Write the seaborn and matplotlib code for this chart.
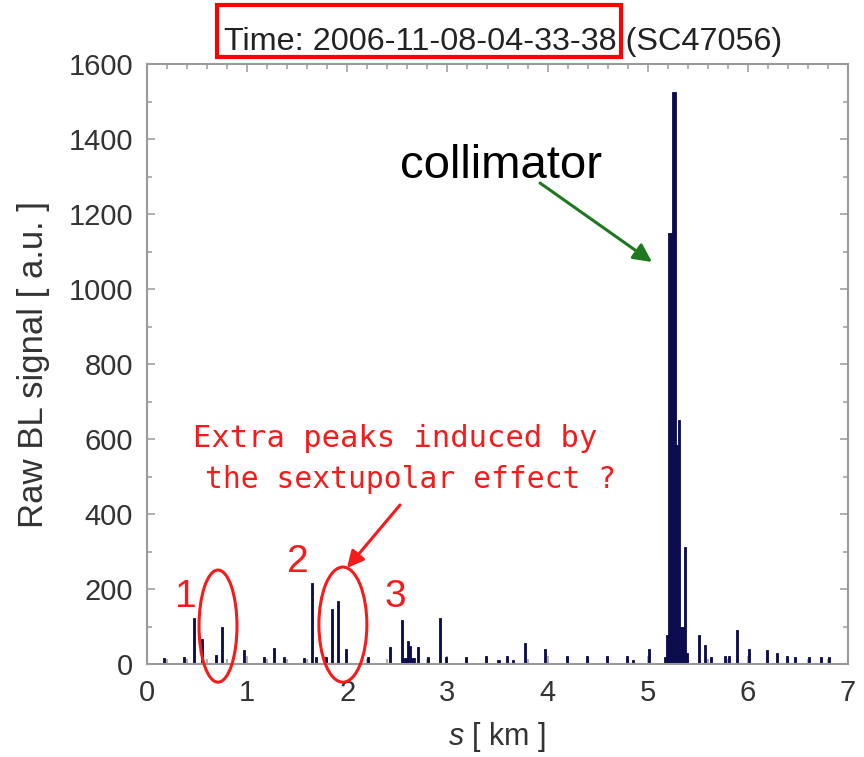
import matplotlib
matplotlib.use("Agg")
import matplotlib.pyplot as plt
from matplotlib.patches import Ellipse, Rectangle
from matplotlib.ticker import MultipleLocator
import seaborn as sns
import pandas as pd

# ---- data: BLM position along ring (km) and raw signal (a.u.) ----
s_km = [0.17, 0.37, 0.47, 0.55, 0.69, 0.75, 0.97, 1.17, 1.27, 1.37,
        1.57, 1.65, 1.69, 1.79, 1.85, 1.91, 1.99, 2.21, 2.43, 2.55,
        2.57, 2.59, 2.61, 2.63, 2.65, 2.67, 2.71, 2.81, 2.93, 2.99,
        3.19, 3.39, 3.51, 3.59, 3.65, 3.77, 3.97, 4.19, 4.39, 4.59,
        4.79, 4.85, 5.01, 5.17, 5.19, 5.21, 5.23, 5.25, 5.27, 5.29,
        5.31, 5.33, 5.35, 5.37, 5.39, 5.51, 5.57, 5.63, 5.77, 5.81,
        5.89, 6.01, 6.19, 6.29, 6.39, 6.47, 6.61, 6.73, 6.81]
signal = [15, 20, 122, 68, 24, 100, 37, 20, 42, 20,
          15, 215, 20, 20, 146, 169, 39, 20, 46, 117,
          15, 15, 62, 48, 15, 15, 45, 20, 122, 20,
          20, 21, 12, 21, 12, 57, 39, 21, 21, 21,
          21, 12, 39, 20, 77, 1150, 1150, 1526, 1526, 584,
          652, 100, 100, 313, 30, 77, 51, 18, 21, 21,
          92, 39, 37, 30, 21, 18, 18, 18, 18]

title_text = "Time: 2006-11-08-04-33-38 (SC47056)"
x_ticks = [0, 1, 2, 3, 4, 5, 6, 7]
y_ticks = [0, 200, 400, 600, 800, 1000, 1200, 1400, 1600]

df = pd.DataFrame({"s": s_km, "signal": signal})

sns.set_style("ticks")
plt.rcParams["font.family"] = ["Liberation Sans", "DejaVu Sans"]
plt.rcParams["mathtext.fontset"] = "custom"
plt.rcParams["mathtext.it"] = "Liberation Sans:italic"
plt.rcParams["mathtext.rm"] = "Liberation Sans"

W, H = 864, 757
fig = plt.figure(figsize=(W / 100, H / 100), dpi=100)
ax = fig.add_axes([147 / W, 1 - 664 / H, 701 / W, 600 / H])

sns.histplot(data=df, x="s", weights="signal", binwidth=0.02, binrange=(0, 7),
             color="#0b0b4e", edgecolor="#0b0b4e", linewidth=0.6, alpha=1.0,
             ax=ax)

ax.set_xlim(0, 7)
ax.set_ylim(0, 1600)
ax.set_xticks(x_ticks)
ax.set_yticks(y_ticks)
ax.xaxis.set_minor_locator(MultipleLocator(0.2))
ax.yaxis.set_minor_locator(MultipleLocator(100))

spine_col = "#9a9a9a"
for sp in ax.spines.values():
    sp.set_visible(True)
    sp.set_color(spine_col)
    sp.set_linewidth(1.5)
ax.tick_params(which="both", direction="in", top=True, right=True,
               color=spine_col, width=1.1)
ax.tick_params(which="major", length=5.5, labelsize=21, labelcolor="#333333")
ax.tick_params(which="minor", length=3.5)
ax.tick_params(axis="y", pad=10)
ax.tick_params(axis="x", pad=11)

ax.set_ylabel("Raw BL signal [ a.u. ]", fontsize=25, color="#333333")
ax.yaxis.set_label_coords(-0.139, 0.5)
ax.set_xlabel("$s$ [ km ]", fontsize=22, color="#333333")
ax.xaxis.set_label_coords(0.5, -0.093)

# title
fig.text(503.5 / W, 1 - 50 / H, title_text, ha="center", va="baseline",
         fontsize=23.3, color="#222222")
fig.add_artist(Rectangle((217 / W, 1 - 57 / H), 404 / W, 52 / H,
                         transform=fig.transFigure, fill=False,
                         edgecolor="#ff0000", linewidth=3))

# collimator annotation
fig.text(400 / W, 1 - 178 / H, "collimator", ha="left", va="baseline",
         fontsize=34, color="black")
ax.annotate("", xy=(652, H - 262), xycoords="figure pixels",
            xytext=(540, H - 183), textcoords="figure pixels",
            arrowprops=dict(arrowstyle="-|>,head_length=1.1,head_width=0.55",
                            color="#1f771f", lw=2.2, shrinkA=0, shrinkB=0))

# red annotations
red = "#f51b1b"
fig.text(193 / W, 1 - 447 / H, "Extra peaks induced by", ha="left",
         va="baseline", fontsize=22, color=red, family="DejaVu Sans Mono")
fig.text(205 / W, 1 - 488 / H, "the sextupolar effect ?", ha="left",
         va="baseline", fontsize=21.3, color=red, family="DejaVu Sans Mono")
ax.annotate("", xy=(347, H - 568), xycoords="figure pixels",
            xytext=(400, H - 505), textcoords="figure pixels",
            arrowprops=dict(arrowstyle="-|>,head_length=1.0,head_width=0.5",
                            color=red, lw=2.2, shrinkA=0, shrinkB=0))
for lab, px, py in [("1", 186, 607), ("2", 298, 572), ("3", 395, 607)]:
    fig.text(px / W, 1 - py / H, lab, ha="center", va="baseline",
             fontsize=28, color=red)

ax.add_patch(Ellipse((0.709, 101), 0.379, 299, fill=False, edgecolor=red,
                     linewidth=2.2, clip_on=False, zorder=5))
ax.add_patch(Ellipse((1.956, 105), 0.479, 307, fill=False, edgecolor=red,
                     linewidth=2.2, clip_on=False, zorder=5))

fig.savefig("out.png", dpi=100)
